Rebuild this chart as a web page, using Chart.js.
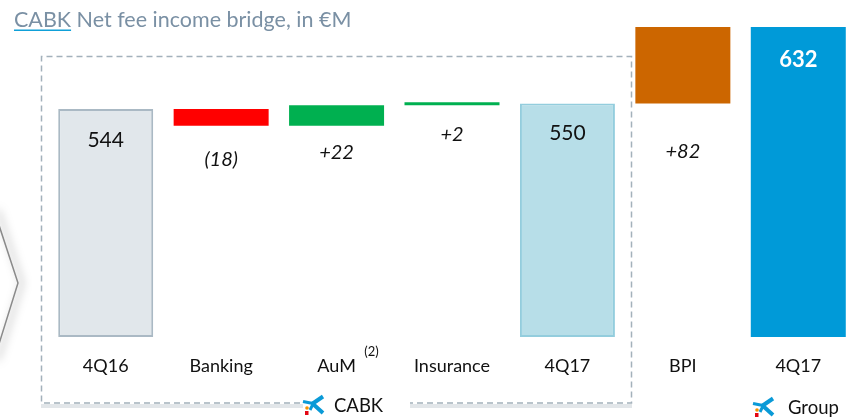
<!DOCTYPE html>
<html><head><meta charset="utf-8">
<script src="https://cdn.jsdelivr.net/npm/chart.js@4/dist/chart.umd.min.js"></script>
<style>html,body{margin:0;padding:0;background:#fff;overflow:hidden}#wrap{position:relative;width:860px;height:417px;overflow:hidden}</style>
</head><body><div id="wrap"><canvas id="c" width="860" height="417"></canvas></div>
<script>
// ---- data ----
const categories = ['4Q16', 'Banking', 'AuM', 'Insurance', '4Q17', 'BPI', '4Q17'];
const changes = [544, -18, 22, 2, 550, 82, 632];
const isTotal = [true, false, false, false, true, false, true];
const valueLabels = ['544', '(18)', '+22', '+2', '550', '+82', '632'];
const axisMin = 299.4, axisMax = 632;

// ---- styles ----
const fillColors = ['#e1e7eb', '#ff0000', '#00b050', '#00b050', '#b7dee8', '#cc6600', '#009ad8'];
const borderColors = ['#aab9c4', '#ff0000', '#00b050', '#00b050', '#93cddd', '#cc6600', '#009ad8'];
const borderWidths = [2, 0, 0, 0, 2, 0, 0];
const FONT = 'Lato, "Open Sans", sans-serif';

// floating ranges built from the values
const ranges = [];
let running = 0;
changes.forEach((v, i) => {
  if (isTotal[i]) { ranges.push([axisMin, v]); running = v; }
  else { ranges.push([running, running + v]); running += v; }
});

// label placement style: anchor edge + offset (px)
const labelStyle = [
  { edge: 'top', dy: 31, font: '21px ' + FONT, color: '#111' },
  { edge: 'bottom', dy: 34, font: 'italic 20px ' + FONT, color: '#111' },
  { edge: 'bottom', dy: 27, font: 'italic 20px ' + FONT, color: '#111' },
  { edge: 'bottom', dy: 29, font: 'italic 20px ' + FONT, color: '#111' },
  { edge: 'top', dy: 30, font: '21px ' + FONT, color: '#111' },
  { edge: 'bottom', dy: 48, font: 'italic 20px ' + FONT, color: '#111' },
  { edge: 'top', dy: 33, font: 'bold 22px ' + FONT, color: '#ffffff' }
];

function drawLogo(ctx, x, y) {
  // stylised star logo, (x,y) = top-left of a ~22x20 box
  ctx.save();
  ctx.strokeStyle = '#0a9ad7';
  ctx.lineCap = 'butt';
  ctx.lineWidth = 3;
  ctx.beginPath(); ctx.moveTo(x + 1, y + 5.5); ctx.lineTo(x + 11, y + 7.5); ctx.stroke();
  ctx.lineWidth = 4;
  ctx.beginPath(); ctx.moveTo(x + 10, y + 8); ctx.lineTo(x + 21, y + 0.5); ctx.stroke();
  ctx.beginPath(); ctx.moveTo(x + 11, y + 8); ctx.lineTo(x + 21, y + 17); ctx.stroke();
  ctx.lineWidth = 3;
  ctx.beginPath(); ctx.moveTo(x + 11, y + 8); ctx.lineTo(x + 8, y + 14); ctx.stroke();
  ctx.fillStyle = '#f39200';
  ctx.beginPath(); ctx.arc(x + 5, y + 12, 1.8, 0, Math.PI * 2); ctx.fill();
  ctx.fillStyle = '#e30613';
  ctx.fillRect(x + 3, y + 15, 3.5, 4);
  ctx.restore();
}

const decor = {
  id: 'decor',
  beforeDraw(chart) {
    const ctx = chart.ctx;
    ctx.save();
    // title
    ctx.font = '21.5px ' + FONT;
    ctx.fillStyle = '#7a90a4';
    ctx.textBaseline = 'alphabetic';
    ctx.fillText('CABK Net fee income bridge, in €M', 14, 27);
    const w = ctx.measureText('CABK').width;
    ctx.fillStyle = '#0fa0d8';
    ctx.fillRect(14, 29.5, w, 1.5);

    // left chevron with shadow
    ctx.save();
    ctx.strokeStyle = '#8a8a8a';
    ctx.lineWidth = 1.5;
    ctx.shadowColor = 'rgba(0,0,0,0.5)';
    ctx.shadowBlur = 8;
    ctx.shadowOffsetX = 4;
    ctx.beginPath();
    ctx.moveTo(-6, 210); ctx.lineTo(18, 283); ctx.lineTo(-6, 360);
    ctx.stroke();
    ctx.restore();

    // bottom light band of dashed box
    ctx.fillStyle = '#e2e6e9';
    ctx.fillRect(41, 404, 262, 4);
    ctx.fillRect(410, 404, 222, 4);

    // dashed box
    ctx.strokeStyle = '#a3b1bb';
    ctx.lineWidth = 1.5;
    ctx.setLineDash([6, 4]);
    ctx.beginPath();
    ctx.moveTo(300, 403); ctx.lineTo(41.5, 403); ctx.lineTo(41.5, 56.5); ctx.lineTo(631.5, 56.5); ctx.lineTo(631.5, 403); ctx.lineTo(410, 403);
    ctx.stroke();
    ctx.setLineDash([]);

    // box captions
    drawLogo(ctx, 302, 396);
    ctx.font = '18.5px ' + FONT;
    ctx.fillStyle = '#111';
    ctx.textBaseline = 'middle';
    ctx.fillText('CABK', 334, 406);
    drawLogo(ctx, 752, 398);
    ctx.fillText('Group', 788, 408);
    ctx.restore();
  },
  afterDatasetsDraw(chart) {
    const ctx = chart.ctx;
    const meta = chart.getDatasetMeta(0);
    ctx.save();
    ctx.textAlign = 'center';
    ctx.textBaseline = 'middle';
    meta.data.forEach((bar, i) => {
      const p = bar.getProps(['x', 'y', 'base'], true);
      const top = Math.min(p.y, p.base), bottom = Math.max(p.y, p.base);
      const s = labelStyle[i];
      const yy = (s.edge === 'top' ? top : bottom) + s.dy;
      ctx.font = s.font;
      ctx.fillStyle = s.color;
      ctx.fillText(valueLabels[i], p.x, yy);
    });
    // superscript on AuM
    const xs = chart.scales.x;
    ctx.font = '13px ' + FONT;
    ctx.fillStyle = '#111';
    ctx.fillText('(2)', xs.getPixelForValue(2) + 35, 352);
    ctx.restore();
  }
};

new Chart(document.getElementById('c'), {
  type: 'bar',
  data: {
    labels: categories,
    datasets: [{
      data: ranges,
      backgroundColor: fillColors,
      borderColor: borderColors,
      borderWidth: borderWidths,
      borderSkipped: false,
      minBarLength: 3,
      barPercentage: 0.823,
      categoryPercentage: 1
    }]
  },
  options: {
    responsive: false,
    animation: false,
    devicePixelRatio: 1,
    layout: { padding: { left: 48, right: 4, top: 27, bottom: 0 } },
    plugins: { legend: { display: false }, tooltip: { enabled: false } },
    scales: {
      y: { display: false, min: axisMin, max: axisMax },
      x: {
        grid: { display: false, drawTicks: false },
        border: { display: false },
        ticks: { color: '#111', font: { family: FONT, size: 18 }, padding: 18, maxRotation: 0, autoSkip: false },
        afterFit(scale) { scale.height = 80; }
      }
    }
  },
  plugins: [decor]
});
</script></body></html>
